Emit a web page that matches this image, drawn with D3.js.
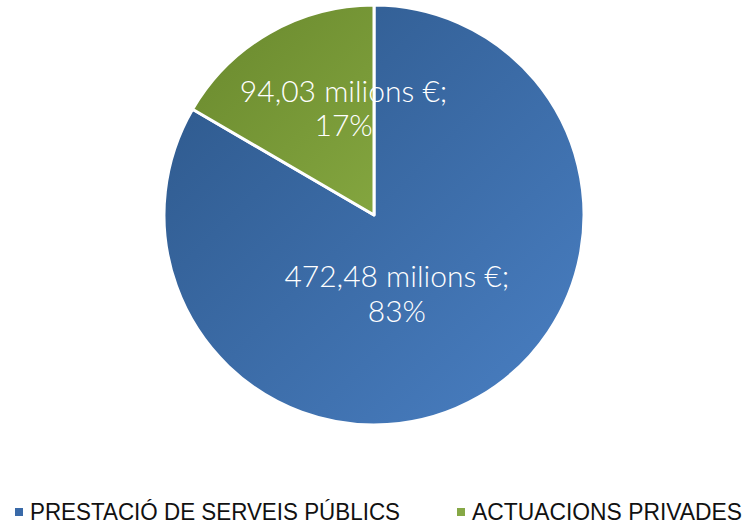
<!DOCTYPE html>
<html>
<head>
<meta charset="utf-8">
<script src="https://cdn.jsdelivr.net/npm/d3@7"></script>
<style>
  body { margin: 0; background: #fff; }
  svg { display: block; }
</style>
</head>
<body>
<div id="chart"></div>
<script>
// Pie chart: distribució de l'import (milions €)

const categories = ['PRESTACIÓ DE SERVEIS PÚBLICS', 'ACTUACIONS PRIVADES'];
const values = [472.48, 94.03];
const valueLabels = ['472,48 milions €;', '94,03 milions €;'];
const percentLabels = ['83%', '17%'];

// gradient stops per slice: [top-left, bottom-right]
const sliceColors = [
    ['#2c5688', '#4a80c4'],
    ['#67862c', '#a0c552']
];
const legendColors = ['#3a6aa8', '#86a846'];

const width = 750, height = 529;
const cx = 374, cy = 215, radius = 210;

const svg = d3.select('#chart').append('svg')
    .attr('width', width)
    .attr('height', height);

const defs = svg.append('defs');
sliceColors.forEach((c, i) => {
    const g = defs.append('linearGradient')
        .attr('id', 'grad' + i)
        .attr('gradientUnits', 'userSpaceOnUse')
        .attr('x1', -radius).attr('y1', -radius)
        .attr('x2', radius).attr('y2', radius);
    g.append('stop').attr('offset', '0%').attr('stop-color', c[0]);
    g.append('stop').attr('offset', '100%').attr('stop-color', c[1]);
});

const pie = d3.pie().sort(null).value(d => d);
const arcs = pie(values);
const arc = d3.arc().innerRadius(0).outerRadius(radius);

const g = svg.append('g').attr('transform', `translate(${cx},${cy})`);

g.selectAll('path.slice')
    .data(arcs)
    .enter()
    .append('path')
    .attr('class', 'slice')
    .attr('d', arc)
    .attr('fill', (d, i) => `url(#grad${i})`)
    .style('stroke', '#fff')
    .style('stroke-width', 3)
    .style('stroke-linejoin', 'round');

// label placement: radius fraction and small nudge, like Excel best-fit
const labelArcs = [
    d3.arc().innerRadius(radius * 0.4).outerRadius(radius * 0.4),
    d3.arc().innerRadius(radius * 0.52).outerRadius(radius * 0.52)
];
const labelNudge = [[-19, 4], [24, -14]];

const labels = g.selectAll('text.lbl')
    .data(arcs)
    .enter()
    .append('text')
    .attr('class', 'lbl')
    .attr('transform', (d, i) => {
        const c = labelArcs[i].centroid(d);
        return `translate(${c[0] + labelNudge[i][0]},${c[1] + labelNudge[i][1]})`;
    })
    .attr('text-anchor', 'middle')
    .style('font-family', 'Lato, "Open Sans", sans-serif')
    .style('font-weight', 300)
    .style('font-size', '30px')
    .style('fill', '#fff');

labels.append('tspan').attr('x', 0).attr('dy', '-0.15em').text((d, i) => valueLabels[i]);
labels.append('tspan').attr('x', 0).attr('dy', '1.15em').text((d, i) => percentLabels[i]);

// legend
const legendX = [15, 457];
const legendWidths = [370, 270];
const legendY = 512;

const legend = svg.selectAll('g.legend')
    .data(categories)
    .enter()
    .append('g')
    .attr('class', 'legend')
    .attr('transform', (d, i) => `translate(${legendX[i]},${legendY})`);

legend.append('rect')
    .attr('x', 0).attr('y', -4)
    .attr('width', 8).attr('height', 8)
    .attr('fill', (d, i) => legendColors[i]);

legend.append('text')
    .attr('x', 15)
    .attr('y', 8)
    .attr('textLength', (d, i) => legendWidths[i])
    .attr('lengthAdjust', 'spacingAndGlyphs')
    .style('font-family', '"Liberation Sans", Arial, sans-serif')
    .style('font-size', '23px')
    .style('fill', '#111')
    .text(d => d);
</script>
</body>
</html>
